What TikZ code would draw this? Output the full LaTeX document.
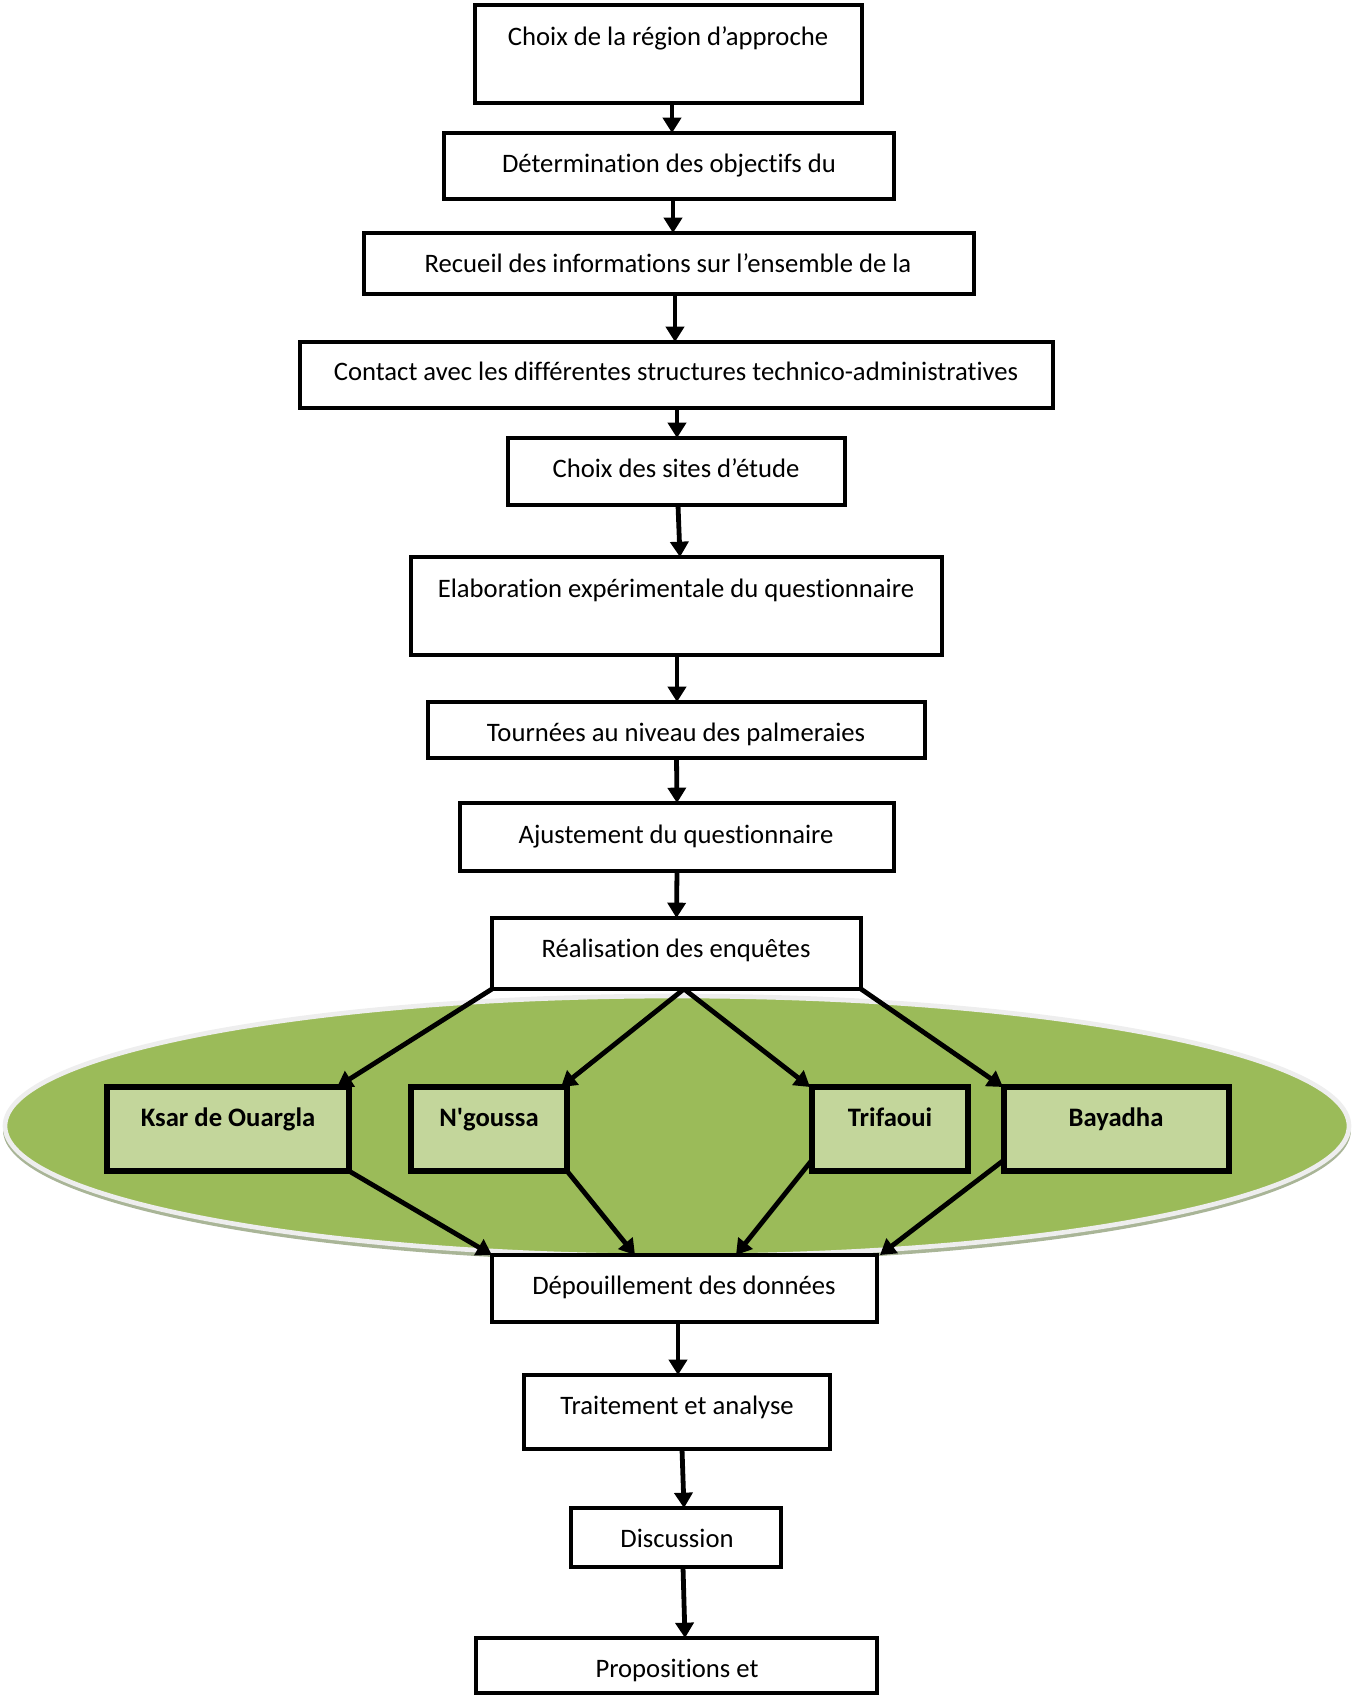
\documentclass[tikz,border=0pt]{standalone}
\usepackage{fontspec}
\newfontfamily\calib{Carlito}[Ligatures={NoCommon,NoRare,NoContextual}]
\usetikzlibrary{arrows.meta,calc}
\definecolor{oasis}{HTML}{9BBB59}
\definecolor{sitefill}{HTML}{C3D69B}
\definecolor{rim}{HTML}{EEEEEE}
\definecolor{rimshade}{HTML}{A9B597}
% box from its corners (pixel units): name, x1, y1, x2, y2, style
\newcommand{\stepbox}[6]{%
  \node[#6, minimum width={(#4-#2)*0.75pt}, minimum height={(#5-#3)*0.75pt}]
    (#1) at ({(#2+#4)/2},{(#3+#5)/2}) {};}
\begin{document}
\begin{tikzpicture}[x=0.75pt,y=-0.75pt,
  box/.style={draw=black, line width=3.5pt, fill=white, inner sep=0pt, outer sep=0pt},
  sitebox/.style={draw=black, line width=3.8pt, fill=sitefill, inner sep=0pt, outer sep=0pt},
  txt/.style={font=\calib\fontsize{20}{24}\selectfont, anchor=mid, inner sep=0pt},
  stxt/.style={font=\calib\bfseries\fontsize{20}{24}\selectfont, anchor=mid, inner sep=0pt},
  arr/.style={line width=3.6pt, -{Triangle[width=13.5pt,length=11.5pt]}}]
\useasboundingbox (0,0) rectangle (1353,1697);

% oasis ellipse with its rim and shadow
\fill[rimshade] (677,1130) ellipse [x radius=674, y radius=132];
\fill[oasis, draw=rim, line width=3.5pt] (677,1126) ellipse [x radius=672, y radius=130];

% main chain of steps
\stepbox{b1}{475}{5}{862}{103}{box}
\stepbox{b2}{444}{133}{894}{199}{box}
\stepbox{b3}{364}{233}{974}{294}{box}
\stepbox{b4}{300}{342}{1053}{408}{box}
\stepbox{b5}{508}{438}{845}{505}{box}
\stepbox{b6}{411}{557}{942}{655}{box}
\stepbox{b7}{428}{702}{925}{758}{box}
\stepbox{b8}{460}{803}{894}{871}{box}
\stepbox{b9}{492}{918}{861}{989}{box}
\stepbox{b10}{492}{1255}{877}{1322}{box}
\stepbox{b11}{524}{1375}{830}{1449}{box}
\stepbox{b12}{571}{1508}{781}{1567}{box}
\stepbox{b13}{476}{1638}{877}{1693}{box}

\node[txt] (t1) at (668,43) {Choix de la région d’approche};
\node[txt] (t2) at (669,170) {Détermination des objectifs du};
\node[txt] (t3) at (668,270) {Recueil des informations sur l’ensemble de la};
\node[txt] (t4) at (676,378) {Contact avec les différentes structures technico-administratives};
\node[txt] (t5) at (676,475) {Choix des sites d’étude};
\node[txt] (t6) at (676,595) {Elaboration expérimentale du questionnaire};
\node[txt] (t7) at (676,739) {Tournées au niveau des palmeraies};
\node[txt] (t8) at (676,841) {Ajustement du questionnaire};
\node[txt] (t10) at (684,1292) {Dépouillement des données};
\node[txt] (t11) at (677,1412) {Traitement et analyse};
\node[txt] (t12) at (677,1545) {Discussion};
\node[txt] (t13) at (677,1675) {Propositions et};

% study sites
\stepbox{ksar}{107}{1087}{349}{1171}{sitebox}
\stepbox{ngou}{411}{1087}{567}{1171}{sitebox}
\stepbox{trif}{812}{1087}{968}{1171}{sitebox}
\stepbox{baya}{1004}{1087}{1229}{1171}{sitebox}
\node[stxt] (tk) at (228,1124) {Ksar de Ouargla};
\node[stxt] (tn) at (489,1124) {N'goussa};
\node[stxt] (tt) at (890,1124) {Trifaoui};
\node[stxt] (tb) at (1116,1124) {Bayadha};

% vertical connectors
\draw[arr] ($(b1.south)+(3.5,0)$) -- ($(b2.north)+(3,0)$);
\draw[arr] ($(b2.south)+(4,0)$) -- ($(b3.north)+(4,0)$);
\draw[arr] ($(b3.south)+(6,0)$) -- ($(b4.north)+(-1.5,0)$);
\draw[arr] ($(b4.south)+(0.5,0)$) -- ($(b5.north)+(0.5,0)$);
\draw[arr] ($(b5.south)+(1.5,0)$) -- ($(b6.north)+(3.5,0)$);
\draw[arr] ($(b6.south)+(0.5,0)$) -- ($(b7.north)+(0.5,0)$);
\draw[arr] (b7.south) -- (b8.north);
\draw[arr] (b8.south) -- (b9.north);
\draw[arr] ($(b10.south)+(-6.5,0)$) -- ($(b11.north)+(1,0)$);
\draw[arr] ($(b11.south)+(5,0)$) -- ($(b12.north)+(8,0)$);
\draw[arr] ($(b12.south)+(7,0)$) -- ($(b13.north)+(8.5,0)$);

% branching to the sites
\coordinate (split) at ($(b9.south)+(7.5,0)$);
\draw[arr] (b9.south west) -- ($(ksar.north east)+(-12,0)$);
\draw[arr] (split) -- ($(ngou.north east)+(-6,0)$);
\draw[arr] (split) -- ($(trif.north west)+(-2,0)$);
\draw[arr] (b9.south east) -- ($(baya.north west)+(-1,0)$);

% merging into the data processing step
\draw[arr] (ksar.south east) -- (b10.north west);
\draw[arr] (ngou.south east) -- ($(b10.north west)+(143,0)$);
\draw[arr] ($(trif.south west)+(0,-11)$) -- ($(b10.north west)+(244,0)$);
\draw[arr] ($(baya.south west)+(0,-11)$) -- ($(b10.north east)+(3,0)$);

% the survey box sits over the branching connectors
\stepbox{b9r}{492}{918}{861}{989}{box}
\node[txt] (t9) at (676,955) {Réalisation des enquêtes};
\end{tikzpicture}
\end{document}
